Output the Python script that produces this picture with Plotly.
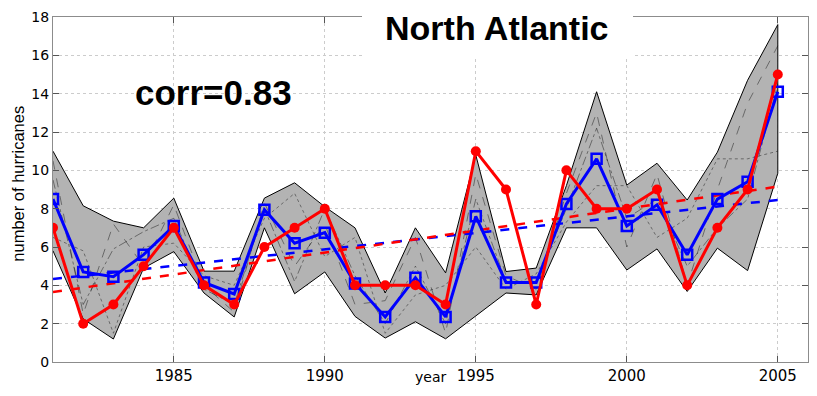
import numpy as np
import plotly.graph_objects as go

years = list(range(1981, 2006))
observed = [7, 2, 3, 5, 7, 4, 3, 6, 7, 8, 4, 4, 4, 3, 11, 9, 3, 10, 8, 8, 9, 4, 7, 9, 15]
ens_mean = [8.5, 4.7, 4.45, 5.6, 7.1, 4.15, 3.55, 7.95, 6.2, 6.75, 4.1, 2.35, 4.4, 2.35, 7.6,
            4.15, 4.15, 8.25, 10.6, 7.1, 8.2, 5.6, 8.5, 9.4, 14.1]
ens_max = [11.0, 8.15, 7.35, 7.0, 8.55, 4.74, 4.74, 8.55, 9.35, 8.1, 7.0, 3.6, 7.0, 4.65, 10.8,
           4.72, 4.9, 9.2, 14.1, 9.23, 10.37, 8.45, 10.95, 14.7, 17.6]
ens_min = [5.8, 2.25, 1.2, 4.9, 5.76, 3.6, 2.35, 7.0, 3.56, 4.7, 2.38, 1.25, 2.1, 1.21, 2.4,
           3.6, 3.5, 7.0, 7.0, 4.8, 5.9, 3.68, 5.94, 4.77, 9.85]
member_a = [10.5, 2.5, 7.2, 5.0, 8.2, 4.0, 2.6, 8.3, 5.0, 7.2, 3.0, 3.2, 6.5, 1.5, 9.8,
            4.5, 3.8, 8.8, 13.0, 6.0, 9.8, 4.0, 9.0, 13.5, 16.5]
member_b = [6.5, 5.8, 1.5, 6.0, 6.2, 4.5, 4.0, 7.5, 8.8, 5.5, 6.5, 1.5, 3.5, 4.0, 6.0,
            3.8, 4.6, 7.3, 9.2, 9.2, 6.5, 7.5, 10.6, 10.6, 11.0]
member_c = [9.5, 3.0, 5.9, 6.8, 7.5, 3.8, 3.0, 8.0, 4.2, 8.0, 4.5, 2.0, 5.0, 2.0, 8.5,
            4.2, 4.2, 8.0, 12.2, 7.5, 8.5, 5.0, 7.0, 8.5, 14.5]
x_ticks = [1985, 1990, 1995, 2000, 2005]
y_ticks = [0, 2, 4, 6, 8, 10, 12, 14, 16, 18]

yrs = np.array(years, dtype=float)
def trend(vals):
    p = np.polyfit(yrs, np.array(vals, dtype=float), 1)
    return list(np.polyval(p, yrs))

fig = go.Figure()
# gray ensemble envelope
fig.add_trace(go.Scatter(x=years + years[::-1], y=ens_max + ens_min[::-1], fill="toself",
                         fillcolor="#b3b3b3", line=dict(color="black", width=1),
                         mode="lines", hoverinfo="skip"))
for m, d in ((member_a, "dash"), (member_b, "dot"), (member_c, "dashdot")):
    fig.add_trace(go.Scatter(x=years, y=m, mode="lines",
                             line=dict(color="rgba(0,0,0,0.6)", width=0.7, dash=d)))
# trend lines
fig.add_trace(go.Scatter(x=years, y=trend(ens_mean), mode="lines",
                         line=dict(color="blue", width=2.5, dash="dash")))
fig.add_trace(go.Scatter(x=years, y=trend(observed), mode="lines",
                         line=dict(color="red", width=2.5, dash="dash")))
# series
fig.add_trace(go.Scatter(x=years, y=ens_mean, mode="lines+markers",
                         line=dict(color="blue", width=3),
                         marker=dict(symbol="square-open", size=10, color="blue",
                                     line=dict(width=2.5, color="blue"))))
fig.add_trace(go.Scatter(x=years, y=observed, mode="lines+markers",
                         line=dict(color="red", width=3),
                         marker=dict(symbol="circle", size=10, color="red")))

axis_common = dict(showgrid=True, gridcolor="#cccccc", griddash="dot", gridwidth=1,
                   showline=True, linecolor="#8c8c8c", linewidth=1, mirror="ticks",
                   ticks="inside", ticklen=6, tickcolor="#555", zeroline=False,
                   tickfont=dict(family="DejaVu Sans", size=15, color="black"))
fig.update_xaxes(range=[1981, 2006], tickvals=x_ticks, **axis_common)
fig.update_yaxes(range=[0, 18], tickvals=y_ticks, **axis_common)
fig.update_yaxes(tickfont=dict(family="DejaVu Sans", size=14, color="black"))

# page pixel -> paper helpers (page has an 8px body margin; plot area spans 53..808 x 17..362)
PX0, PW, PY0, PH = 53.0, 755.0, 362.3, 345.0
def px(xp):
    return (xp - PX0) / PW
def py(yp):
    return (PY0 - yp) / PH

# white box behind title
fig.add_shape(type="rect", xref="paper", yref="paper", x0=px(362), x1=px(633),
              y0=py(57), y1=py(0), fillcolor="white", line=dict(width=0), layer="above")

title_font = "Liberation Sans, Arial, sans-serif"
fig.add_annotation(text="<b>North Atlantic</b>", xref="paper", yref="paper",
                   x=px(497), y=py(28), xanchor="center", yanchor="middle",
                   showarrow=False, font=dict(family=title_font, size=34, color="black"))
fig.add_annotation(text="<b>corr=0.83</b>", xref="paper", yref="paper",
                   x=px(213), y=py(93), xanchor="center", yanchor="middle",
                   showarrow=False, font=dict(family=title_font, size=35, color="black"))
fig.add_annotation(text="number of hurricanes", xref="paper", yref="paper",
                   x=px(18), y=py(184), xanchor="center", yanchor="middle",
                   textangle=-90, showarrow=False,
                   font=dict(family="Liberation Sans", size=16.5, color="black"))
fig.add_annotation(text="year", xref="paper", yref="paper",
                   x=px(430), y=py(387.5), xanchor="center", yanchor="bottom",
                   showarrow=False, font=dict(family="DejaVu Sans", size=14, color="black"))

fig.update_layout(width=801, height=380, margin=dict(l=45, r=1, t=9, b=26),
                  plot_bgcolor="white", paper_bgcolor="white", showlegend=False)
fig.write_html("out.html")
